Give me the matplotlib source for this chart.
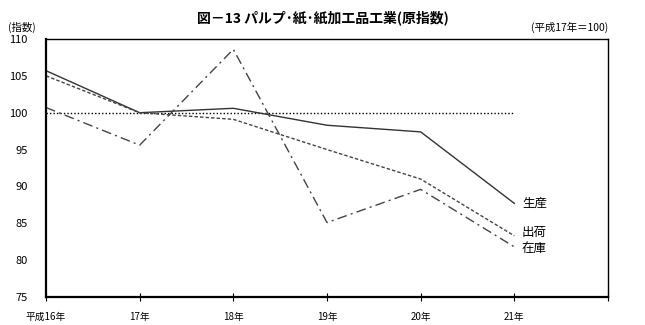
import matplotlib.pyplot as plt

plt.rcParams['font.family'] = ['Noto Sans CJK JP', 'DejaVu Sans']

years = ['平成16年', '17年', '18年', '19年', '20年', '21年']
seisan = [105.7, 100.0, 100.6, 98.3, 97.4, 87.7]   # 生産
shukka = [105.0, 100.0, 99.1, 95.0, 91.0, 83.3]    # 出荷
zaiko = [100.7, 95.6, 108.6, 85.1, 89.6, 81.8]     # 在庫
yticks = [75, 80, 85, 90, 95, 100, 105, 110]

fig = plt.figure(figsize=(6.45, 3.25), dpi=100)
ax = fig.add_axes([46/645, 28/325, 562/645, 258/325])

x = list(range(len(years)))
ax.plot(x, [100]*len(x), color='black', lw=1, ls=(0, (1, 1.5)))
ax.plot(x, seisan, color='#333333', lw=1)
ax.plot(x, shukka, color='#444444', lw=1, ls=(0, (2.5, 1.5)))
ax.plot(x, zaiko, color='#444444', lw=1, ls=(0, (7, 3, 1.5, 3)))

# 系列名は線の右端に、重ならないよう少しずらして置く
ax.text(5.08, seisan[-1], '生産', fontsize=9, va='center', ha='left')
ax.text(5.08, shukka[-1] + 0.5, '出荷', fontsize=9, va='center', ha='left')
ax.text(5.08, zaiko[-1] - 0.2, '在庫', fontsize=9, va='center', ha='left')

ax.set_xlim(0, 6)
ax.set_ylim(75, 110)
ax.set_xticks(range(7))
ax.set_xticklabels(years + [''], fontsize=7)
ax.set_yticks(yticks)
ax.set_yticklabels([str(v) for v in yticks], fontsize=8)
ax.tick_params(axis='x', direction='inout', length=6, width=0.8, pad=8)
ax.tick_params(axis='y', length=0, pad=13)
for side in ['left', 'bottom']:
    ax.spines[side].set_linewidth(1.6)
for side in ['top', 'right']:
    ax.spines[side].set_linewidth(1.0)

fig.text(0.5, 0.945, '図－13 パルプ･紙･紙加工品工業(原指数)', fontsize=10,
         fontweight='bold', ha='center', va='center')
fig.text(8/645, 0.915, '(指数)', fontsize=7.5, ha='left', va='center')
fig.text(608/645, 0.915, '(平成17年＝100)', fontsize=7.5, ha='right', va='center')

fig.savefig('out.png', dpi=100)
